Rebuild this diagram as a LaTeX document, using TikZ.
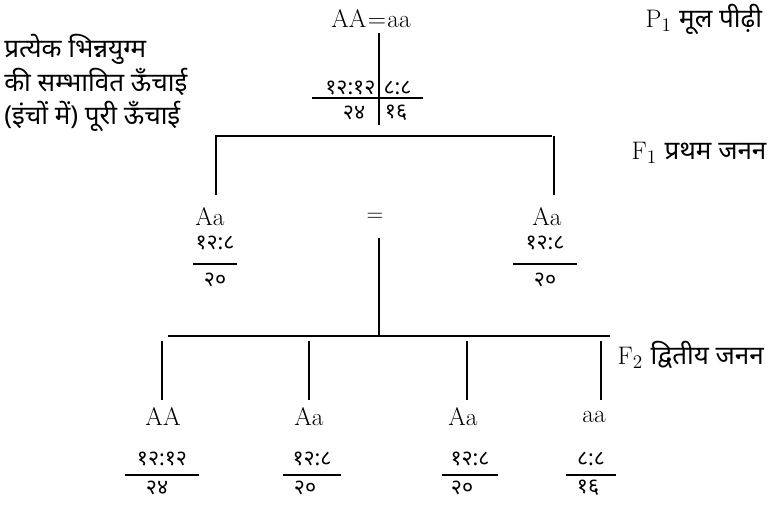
\documentclass[tikz,border=0pt]{standalone}
\usepackage{fontspec}
\newfontfamily\dev[Script=Devanagari]{Noto Sans}
\newcommand\devbig{\dev\fontsize{19.5}{21}\selectfont}
\begin{document}
\begin{tikzpicture}[x=0.75pt, y=-0.75pt,
    gene/.style={font=\fontsize{19}{21}\selectfont, inner sep=1pt},
    frac/.style={font=\dev\fontsize{16}{18}\selectfont, inner sep=1pt},
    notelbl/.style={font=\dev\fontsize{19.5}{21}\selectfont, anchor=west, inner sep=0pt},
    genlbl/.style={font=\fontsize{19}{21}\selectfont, anchor=west, inner sep=1pt},
    tree/.style={line width=1.1pt},
    fbar/.style={line width=0.8pt}
  ]
  \useasboundingbox (0,0) rectangle (770,507);
  % parents
  \node[gene] (par) at (371,19) {AA\kern1pt=\kern1pt aa};
  \node[genlbl] (plbl) at (644,19) {P$_1$ {\devbig मूल पीढ़ी}};
  \node[notelbl] (q1) at (4,49) {प्रत्येक भिन्नयुग्म};
  \node[notelbl] (q2) at (4,82) {की सम्भावित ऊँचाई};
  \node[notelbl] (q3) at (4,116) {(इंचों में) पूरी ऊँचाई};
  \node[frac, anchor=east] (pnA) at (377,88) {१२:१२};
  \node[frac, anchor=west] (pna) at (382,88) {८:८};
  \draw[fbar] (312,98) -- (423,98);
  \node[frac] (pdA) at (354,113) {२४};
  \node[frac] (pda) at (396,113) {१६};
  \coordinate (ptop) at (379,33);
  \coordinate (pbot) at (379,125);
  \draw[tree] (ptop) -- (pbot);
  % F1
  \coordinate (f1w) at (215,136);
  \coordinate (f1e) at (552,136);
  \draw[tree] (f1w) -- (f1e);
  \node[genlbl] (f1lbl) at (630,153) {F$_1$ {\devbig प्रथम जनन}};
  \foreach \n/\x/\gx/\fx/\hw in {l/216/210/215/22, r/554/547/545/32}{
    \coordinate (u\n) at (\x,136);
    \coordinate (d\n) at (\x,195);
    \draw[tree] (u\n) -- (d\n);
    \node[gene] (g\n) at (\gx,217) {Aa};
    \node[frac] (n\n) at (\fx,243) {१२:८};
    \draw[fbar] (\fx-\hw,264) -- (\fx+\hw,264);
    \node[frac] (dd\n) at (\fx,280) {२०};
  }
  \node[gene] (cross) at (375,217) {$=$};
  % F2
  \coordinate (ctop) at (379,238);
  \coordinate (f2c) at (379,336);
  \draw[tree] (ctop) -- (f2c);
  \coordinate (f2w) at (168,336);
  \coordinate (f2e) at (610,336);
  \draw[tree] (f2w) -- (f2e);
  \node[genlbl] (f2lbl) at (616,355) {F$_2$ {\devbig द्वितीय जनन}};
  \foreach \n/\x/\gx/\fx/\hw/\dx/\g/\num/\den in {%
    a/162/163/162/37/157/AA/१२:१२/२४,
    b/309/309/312/29/305/Aa/१२:८/२०,
    c/467/463/470/28/462/Aa/१२:८/२०,
    d/601/594/591/25/588/aa/८:८/१६%
  }{
    \coordinate (t\n) at (\x,341);
    \coordinate (b\n) at (\x,400);
    \draw[tree] (t\n) -- (b\n);
    \node[gene] (g\n) at (\gx,417) {\g};
    \node[frac] (n\n) at (\fx,459) {\num};
    \draw[fbar] (\fx-\hw,475) -- (\fx+\hw,475);
    \node[frac] (d\n) at (\dx,488) {\den};
  }
\end{tikzpicture}
\end{document}
